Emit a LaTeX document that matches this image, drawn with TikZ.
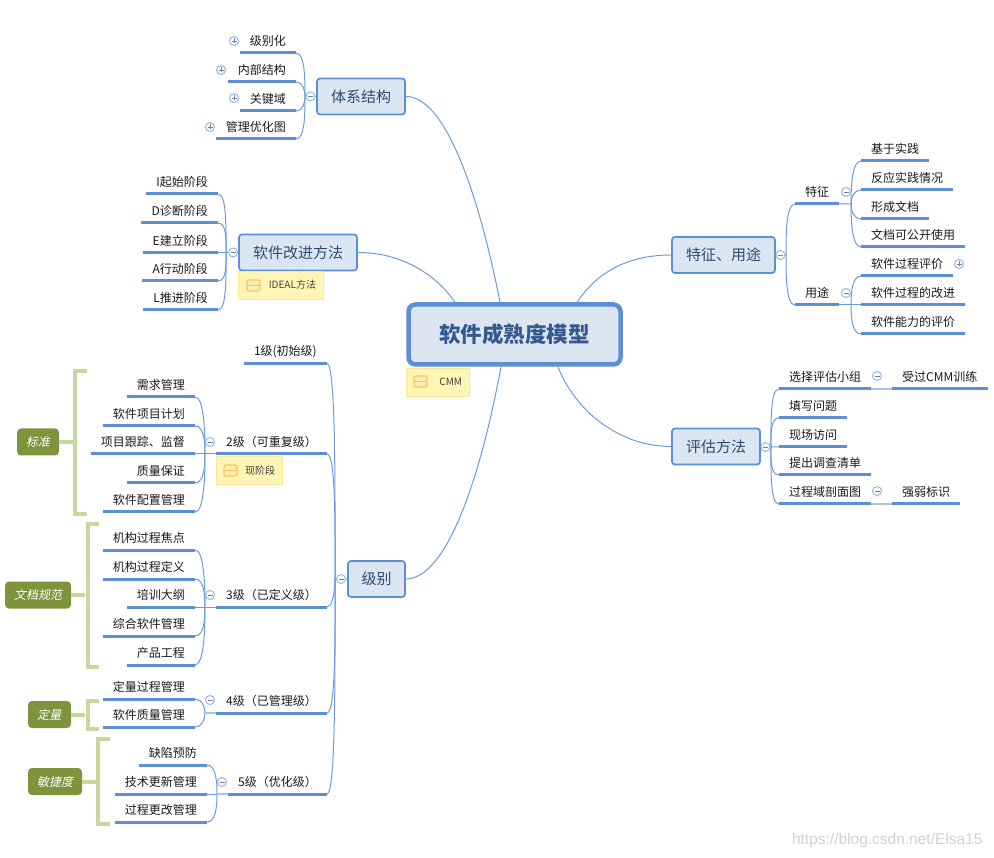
\documentclass[tikz,border=0pt]{standalone}
\usepackage{fontspec}
\setmainfont{Noto Sans CJK SC}
\newfontfamily\inclinada{Noto Sans CJK SC}[FakeSlant=0.2]
\setsansfont{Liberation Sans}

\definecolor{azul}{HTML}{5B8FD6}
\definecolor{azulrama}{HTML}{6C9BDD}
\definecolor{azulclaro}{HTML}{A9C5EA}
\definecolor{fondo}{HTML}{DCE6F3}
\definecolor{tinta}{HTML}{2F4A70}
\definecolor{titulo}{HTML}{35598F}
\definecolor{nota}{HTML}{FFF5B5}
\definecolor{notaborde}{HTML}{FBE698}
\definecolor{olivo}{HTML}{7D943C}
\definecolor{llavecol}{HTML}{C7D89F}
\definecolor{marcoicono}{HTML}{F9C45A}
\definecolor{rellenoicono}{HTML}{FFEDB8}

\begin{document}
\begin{tikzpicture}[
  x=1pt, y=-1pt,
  font=\fontsize{12}{14}\selectfont,
  centro/.style={rectangle, draw=azul, line width=4.5pt, fill=fondo, rounded corners=7pt,
                 minimum width=212pt, minimum height=60pt, inner sep=0pt, text=titulo,
                 font=\fontsize{21.5}{24}\selectfont\bfseries},
  tema/.style={rectangle, draw=azul, line width=1.7pt, fill=fondo, rounded corners=3pt,
               minimum height=36pt, inner sep=0pt, text=tinta,
               font=\fontsize{15}{17}\selectfont},
  hoja/.style={rectangle, inner xsep=10pt, inner ysep=0pt, minimum height=23pt, text=black!90,
               append after command={(\tikzlastnode.south west) edge[raya] (\tikzlastnode.south east)}},
  hojaizq/.style={hoja, anchor=south east},
  hojader/.style={hoja, anchor=south west},
  raya/.style={draw=azul, line width=3pt},
  rama/.style={draw=azulrama, line width=1pt, out max distance=9pt},
  tallo/.style={draw=azulclaro, line width=1.6pt},
  arriba/.style={out=0, in=90},
  abajo/.style={out=0, in=-90},
  darriba/.style={out=180, in=90},
  dabajo/.style={out=180, in=-90},
  plegar/.style={circle, draw=azul!65, fill=white, line width=1pt, minimum size=9pt, inner sep=0pt,
                 path picture={\draw[tinta!70, line width=0.7pt] (-2.5pt,0pt) -- (2.5pt,0pt);}},
  desplegar/.style={plegar,
                 path picture={\draw[tinta!70, line width=0.7pt] (-2.5pt,0pt) -- (2.5pt,0pt) (0pt,-2.5pt) -- (0pt,2.5pt);}},
  notita/.style={rectangle, draw=notaborde, fill=nota, line width=0.8pt, minimum height=28pt,
                 inner xsep=7pt, inner ysep=0pt, align=right, text=black!75,
                 font=\fontsize{10}{12}\selectfont},
  icono/.style={rectangle, draw=marcoicono, fill=rellenoicono, line width=1.2pt,
                rounded corners=2pt, minimum width=13pt, minimum height=11pt, inner sep=0pt,
                path picture={\draw[marcoicono, line width=1.2pt] (path picture bounding box.west) -- (path picture bounding box.east);}},
  etiqueta/.style={rectangle, fill=olivo, rounded corners=4pt, minimum height=27pt, inner sep=0pt,
                   text=white, font=\fontsize{12}{14}\selectfont\inclinada},
  llave/.style={draw=llavecol, line width=4pt}
]
\useasboundingbox (0,0) rectangle (994,858);

% --- Nodo central ---
\node[centro] (nucleo) at (514.5,334.5) {软件成熟度模型};
\node[notita, text width=49pt, minimum width=63pt] (ncmm) at (437.5,382) {CMM};
\node[icono] (icmm) at (420.5,381.5) {};

% --- Temas ---
\node[tema, minimum width=88pt] (sistema) at (361,96.5) {体系结构};
\node[tema, minimum width=118pt] (mejora) at (298,252.5) {软件改进方法};
\node[tema, minimum width=103pt] (rasgos) at (723.5,255) {特征、用途};
\node[tema, minimum width=88pt] (evalua) at (716,446.5) {评估方法};
\node[tema, minimum width=57pt] (nivel) at (376.5,579) {级别};

\node[notita, text width=71pt, minimum width=85pt] (nideal) at (280.5,285) {IDEAL方法};
\node[icono] (iideal) at (253.5,285.5) {};

% --- Relaciones con el nodo central ---
\draw[rama] (sistema.east) .. controls +(50,0) and +(-10,-52) .. ([xshift=-14.5pt]nucleo.north);
\draw[rama] (mejora.east) .. controls +(50,0) and +(-15,-22) .. ([xshift=-59.5pt]nucleo.north);
\draw[rama] (rasgos.west) .. controls +(-47,0) and +(18,-27) .. ([xshift=62.5pt]nucleo.north);
\draw[rama] (evalua.west) .. controls +(-52,0) and +(17,44) .. ([xshift=43.5pt]nucleo.south);
\draw[rama] (nivel.east) .. controls +(40,0) and +(-21,114) .. ([xshift=-13.5pt]nucleo.south);

% --- Hojas de la estructura ---
\coordinate (j1) at (305,96.5);
\node[hojaizq] (s1) at (296,53) {级别化};
\node[hojaizq] (s2) at (296,82) {内部结构};
\node[hojaizq] (s3) at (296,111) {关键域};
\node[hojaizq] (s4) at (296,139) {管理优化图};
\draw[rama] (s1.south east) to[arriba] (j1);
\draw[rama] (s2.south east) to[arriba] (j1);
\draw[rama] (s3.south east) to[abajo] (j1);
\draw[rama] (s4.south east) to[abajo] (j1) -- (sistema.west);
\node[desplegar] (ps1) at (234,41) {};
\node[desplegar] (ps2) at (221,70) {};
\node[desplegar] (ps3) at (234,98) {};
\node[desplegar] (ps4) at (210,127) {};
\node[plegar] (cs) at (310.5,96.5) {};

% --- Hojas del metodo ---
\coordinate (j2) at (226,252.5);
\node[hojaizq] (m1) at (218,194) {I起始阶段};
\node[hojaizq] (m2) at (218,223) {D诊断阶段};
\node[hojaizq] (m3) at (218,252.5) {E建立阶段};
\node[hojaizq] (m4) at (218,281) {A行动阶段};
\node[hojaizq] (m5) at (218,310) {L推进阶段};
\draw[rama] (m1.south east) to[arriba] (j2);
\draw[rama] (m2.south east) to[arriba] (j2);
\draw[rama] (m3.south east) -- (mejora.west);
\draw[rama] (m4.south east) to[abajo] (j2);
\draw[rama] (m5.south east) to[abajo] (j2);
\node[plegar] (cm) at (233,252.5) {};

% --- Caracteristicas y usos ---
\coordinate (j3) at (786,255);
\node[hojader] (r1) at (795,204) {特征};
\node[hojader] (r2) at (795,305) {用途};
\draw[rama] (r1.south west) to[darriba] (j3);
\draw[rama] (r2.south west) to[dabajo] (j3) -- (rasgos.east);
\node[plegar] (cr) at (780.5,255) {};

\coordinate (j4) at (851,204);
\node[hojader] (r11) at (861,161) {基于实践};
\node[hojader] (r12) at (861,190) {反应实践情况};
\node[hojader] (r13) at (861,219) {形成文档};
\node[hojader] (r14) at (861,247) {文档可公开使用};
\draw[rama] (r11.south west) to[darriba] (j4);
\draw[rama] (r12.south west) to[darriba] (j4);
\draw[rama] (r13.south west) to[dabajo] (j4);
\draw[rama] (r14.south west) to[dabajo] (j4) -- (r1.south east);
\node[plegar] (cr1) at (846,192) {};

\coordinate (j5) at (851,305);
\node[hojader] (r21) at (861,276) {软件过程评价};
\node[hojader] (r22) at (861,305) {软件过程的改进};
\node[hojader] (r23) at (861,334) {软件能力的评价};
\draw[rama] (r21.south west) to[darriba] (j5);
\draw[rama] (r22.south west) -- (r2.south east);
\draw[rama] (r23.south west) to[dabajo] (j5);
\node[plegar] (cr2) at (846,293) {};
\node[desplegar] (pr21) at (959,264) {};

% --- Evaluacion ---
\coordinate (j6) at (771,447);
\node[hojader] (e1) at (779,389) {选择评估小组};
\node[hojader] (e2) at (779,418) {填写问题};
\node[hojader] (e3) at (779,447) {现场访问};
\node[hojader] (e4) at (779,475) {提出调查清单};
\node[hojader] (e5) at (779,504) {过程域剖面图};
\draw[rama] (e1.south west) to[darriba] (j6);
\draw[rama] (e2.south west) to[darriba] (j6);
\draw[rama] (e3.south west) -- (evalua.east);
\draw[rama] (e4.south west) to[dabajo] (j6);
\draw[rama] (e5.south west) to[dabajo] (j6);
\node[plegar] (ce) at (765.5,447) {};

\node[hojader] (e11) at (892,389) {受过CMM训练};
\node[hojader] (e51) at (892,504) {强弱标识};
\draw[tallo] (e1.south east) -- (e11.south west);
\draw[tallo] (e5.south east) -- (e51.south west);
\node[plegar] (ce1) at (877,376) {};
\node[plegar] (ce5) at (877,491) {};

% --- Niveles ---
\coordinate (j7) at (335,579);
\node[hojaizq] (n1) at (327,363.5) {1级(初始级)};
\node[hojaizq] (n2) at (327,454) {2级（可重复级）};
\node[hojaizq] (n3) at (327,607) {3级（已定义级）};
\node[hojaizq] (n4) at (327,713) {4级（已管理级）};
\node[hojaizq] (n5) at (327,794) {5级（优化级）};
\draw[rama] (n1.south east) to[arriba] (j7);
\draw[rama] (n2.south east) to[arriba] (j7);
\draw[rama] (n3.south east) to[arriba] (j7);
\draw[rama] (n4.south east) to[abajo] (j7);
\draw[rama] (n5.south east) to[abajo] (j7) -- (nivel.west);
\node[plegar] (cn) at (341,579) {};

\node[notita, text width=52pt, minimum width=66pt] (nactual) at (249,470.5) {现阶段};
\node[icono] (iactual) at (230.5,470.5) {};

\coordinate (j21) at (205,454);
\node[hojaizq] (n21) at (195,397) {需求管理};
\node[hojaizq] (n22) at (195,426) {软件项目计划};
\node[hojaizq] (n23) at (195,454) {项目跟踪、监督};
\node[hojaizq] (n24) at (195,483) {质量保证};
\node[hojaizq] (n25) at (195,512) {软件配置管理};
\draw[rama] (n21.south east) to[arriba] (j21);
\draw[rama] (n22.south east) to[arriba] (j21);
\draw[rama] (n23.south east) -- (n2.south west);
\draw[rama] (n24.south east) to[abajo] (j21);
\draw[rama] (n25.south east) to[abajo] (j21);
\node[plegar] (cn2) at (210,442) {};

\coordinate (j31) at (205,607);
\node[hojaizq] (n31) at (195,550) {机构过程焦点};
\node[hojaizq] (n32) at (195,579) {机构过程定义};
\node[hojaizq] (n33) at (195,607) {培训大纲};
\node[hojaizq] (n34) at (195,636) {综合软件管理};
\node[hojaizq] (n35) at (195,665) {产品工程};
\draw[rama] (n31.south east) to[arriba] (j31);
\draw[rama] (n32.south east) to[arriba] (j31);
\draw[rama] (n33.south east) -- (n3.south west);
\draw[rama] (n34.south east) to[abajo] (j31);
\draw[rama] (n35.south east) to[abajo] (j31);
\node[plegar] (cn3) at (210,595) {};

\coordinate (j41) at (205,713);
\node[hojaizq] (n41) at (195,699) {定量过程管理};
\node[hojaizq] (n42) at (195,727) {软件质量管理};
\draw[rama] (n41.south east) to[arriba] (j41);
\draw[rama] (n42.south east) to[abajo] (j41);
\draw[tallo] (j41) -- (n4.south west);
\node[plegar] (cn4) at (210,700) {};

\coordinate (j51) at (217,794);
\node[hojaizq] (n51) at (207,765) {缺陷预防};
\node[hojaizq] (n52) at (207,794) {技术更新管理};
\node[hojaizq] (n53) at (207,822) {过程更改管理};
\draw[rama] (n51.south east) to[arriba] (j51);
\draw[rama] (n52.south east) -- (j51);
\draw[rama] (n53.south east) to[abajo] (j51);
\draw[tallo] (j51) -- (n5.south west);
\node[plegar] (cn5) at (222,782) {};

% --- Llaves y etiquetas ---
\node[etiqueta, minimum width=42pt] (t1) at (38,442) {标准};
\node[etiqueta, minimum width=66pt] (t2) at (38,595) {文档规范};
\node[etiqueta, minimum width=43pt] (t3) at (49.5,714.5) {定量};
\node[etiqueta, minimum width=54pt] (t4) at (55,781.5) {敏捷度};

\coordinate (l1) at (87,371);
\coordinate (l2) at (98.5,524);
\coordinate (l3) at (98.5,701);
\coordinate (l4) at (110,739);
\draw[llave] (l1) -- ++(-12,0) -- ++(0,143) -- ++(12,0);
\draw[llave] (l2) -- ++(-11,0) -- ++(0,143) -- ++(11,0);
\draw[llave] (l3) -- ++(-11,0) -- ++(0,28) -- ++(11,0);
\draw[llave] (l4) -- ++(-12,0) -- ++(0,85) -- ++(12,0);
\draw[llave] (t1.east) -- ++(14,0);
\draw[llave] (t2.east) -- ++(14,0);
\draw[llave] (t3.east) -- ++(14,0);
\draw[llave] (t4.east) -- ++(14,0);

\node[text=black!18, font=\fontsize{15.5}{17}\selectfont\sffamily, anchor=east] (marca) at (986,840)
      {https://blog.csdn.net/Elsa15};

\end{tikzpicture}
\end{document}
